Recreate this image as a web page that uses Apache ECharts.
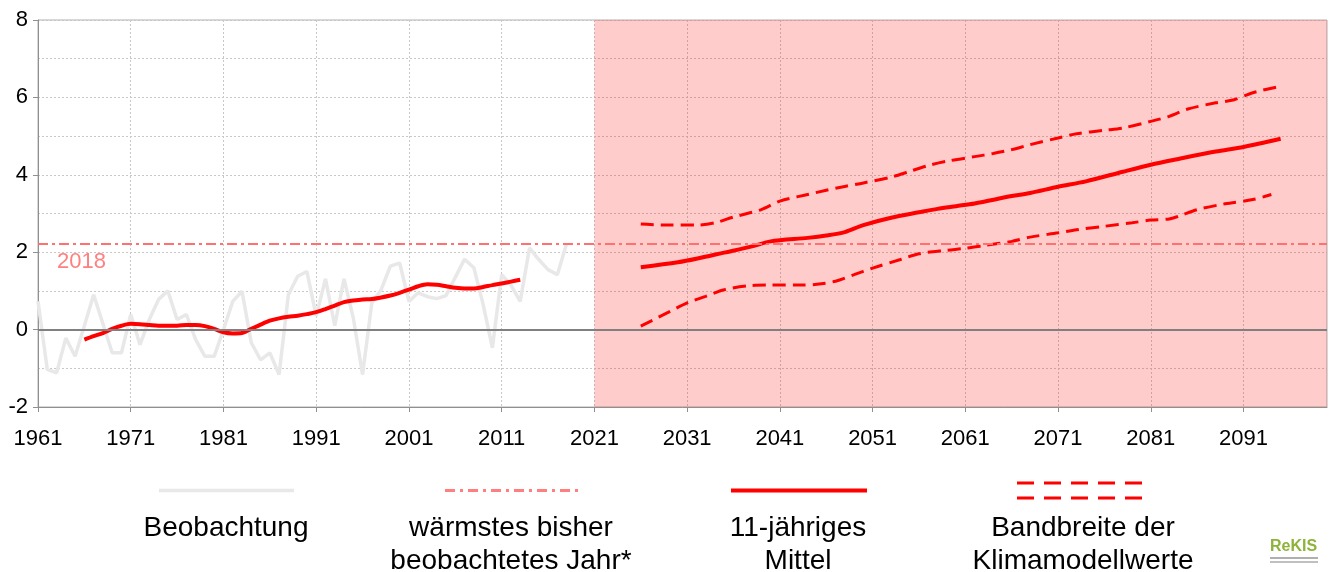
<!DOCTYPE html>
<html>
<head>
<meta charset="utf-8">
<script src="https://cdn.jsdelivr.net/npm/echarts@6/dist/echarts.min.js"></script>
<style>
  html, body { margin: 0; padding: 0; background: #fff; }
  #chart { width: 1338px; height: 572px; }
</style>
</head>
<body>
<div id="chart"></div>
<script>
// x categories: one per year
const firstYear = 1961
const lastYear = 2100
const years = []
for (let y = firstYear; y <= lastYear; y++) years.push(String(y))

// observed annual anomaly 1961..2018
const obsStart = 1961
const observed = [
  0.73, -1.03, -1.12, -0.22, -0.69, 0.1, 0.9, 0.15, -0.6, -0.6,
  0.39, -0.39, 0.26, 0.78, 1.0, 0.26, 0.39, -0.26, -0.69, -0.69,
  0.0, 0.73, 0.99, -0.34, -0.78, -0.6, -1.16, 0.9, 1.38, 1.5,
  0.35, 1.31, 0.1, 1.31, 0.3, -1.16, 0.69, 1.03, 1.64, 1.72,
  0.73, 0.95, 0.85, 0.8, 0.88, 1.35, 1.82, 1.6, 0.65, -0.47,
  1.42, 1.15, 0.73, 2.11, 1.81, 1.55, 1.42, 2.22
]

// 11-year running mean 1966..2013
const meanStart = 1966
const mean11 = [
  -0.26, -0.17, -0.09, 0.02, 0.1, 0.15, 0.14, 0.12, 0.1, 0.1,
  0.1, 0.12, 0.12, 0.09, 0.02, -0.07, -0.1, -0.09, 0.02, 0.13,
  0.23, 0.29, 0.33, 0.36, 0.4, 0.45, 0.53, 0.62, 0.71, 0.75,
  0.78, 0.79, 0.83, 0.88, 0.95, 1.03, 1.12, 1.17, 1.16, 1.12,
  1.08, 1.06, 1.06, 1.1, 1.15, 1.19, 1.24, 1.29
]

// climate model projections [year, value]
const futureMean = [
  [2026, 1.61], [2030, 1.74], [2032, 1.83], [2035, 1.99], [2038, 2.15],
  [2040, 2.28], [2044, 2.37], [2046, 2.43], [2048, 2.52], [2050, 2.7],
  [2053, 2.89], [2056, 3.03], [2058, 3.12], [2060, 3.19], [2062, 3.26],
  [2066, 3.45], [2068, 3.53], [2071, 3.69], [2074, 3.83], [2078, 4.08],
  [2081, 4.26], [2084, 4.41], [2088, 4.6], [2091, 4.72], [2095, 4.93]
]
const futureUpper = [
  [2026, 2.73], [2029, 2.7], [2032, 2.7], [2034, 2.76], [2036, 2.91],
  [2039, 3.1], [2041, 3.32], [2044, 3.49], [2046, 3.6], [2048, 3.7],
  [2050, 3.79], [2053, 3.94], [2055, 4.09], [2057, 4.24], [2059, 4.35],
  [2062, 4.47], [2064, 4.55], [2066, 4.65], [2068, 4.78], [2071, 4.95],
  [2073, 5.06], [2076, 5.15], [2078, 5.21], [2081, 5.38], [2083, 5.51],
  [2085, 5.7], [2088, 5.86], [2090, 5.94], [2092, 6.12], [2095, 6.29]
]
const futureLower = [
  [2026, 0.09], [2029, 0.45], [2031, 0.69], [2033, 0.86], [2035, 1.03],
  [2038, 1.14], [2040, 1.15], [2043, 1.15], [2045, 1.17], [2047, 1.25],
  [2049, 1.42], [2051, 1.59], [2054, 1.81], [2056, 1.96], [2059, 2.05],
  [2061, 2.1], [2063, 2.17], [2066, 2.28], [2068, 2.39], [2071, 2.5],
  [2073, 2.58], [2076, 2.67], [2079, 2.76], [2081, 2.83], [2083, 2.86],
  [2084, 2.93], [2086, 3.1], [2089, 3.25], [2092, 3.36], [2094, 3.49]
]

const warmestYear = '2018'
const warmestValue = 2.22
const scenarioStart = '2021'

const yMin = -2
const yMax = 8

const font = 'Liberation Sans, Arial, sans-serif'
const toPairs = (start, arr) => arr.map((v, i) => [String(start + i), v])
const yearPairs = arr => arr.map(d => [String(d[0]), d[1]])

const legendItems = [
  { x: 226, lines: ['Beobachtung'] },
  { x: 511, lines: ['wärmstes bisher', 'beobachtetes Jahr*'] },
  { x: 798, lines: ['11-jähriges', 'Mittel'] },
  { x: 1083, lines: ['Bandbreite der', 'Klimamodellwerte'] }
]

const graphic = []
// legend samples
graphic.push({ type: 'line', shape: { x1: 159, y1: 490.5, x2: 294, y2: 490.5 }, style: { stroke: '#e8e8e8', lineWidth: 3.5 } })
graphic.push({ type: 'line', shape: { x1: 445, y1: 490.5, x2: 581, y2: 490.5 }, style: { stroke: '#ff7f7f', lineWidth: 3, lineDash: [10, 5, 3, 5] } })
graphic.push({ type: 'line', shape: { x1: 731, y1: 490.5, x2: 867, y2: 490.5 }, style: { stroke: '#ff0000', lineWidth: 4 } })
graphic.push({ type: 'line', shape: { x1: 1017, y1: 483, x2: 1143, y2: 483 }, style: { stroke: '#ff0000', lineWidth: 3, lineDash: [17, 10] } })
graphic.push({ type: 'line', shape: { x1: 1017, y1: 498, x2: 1143, y2: 498 }, style: { stroke: '#ff0000', lineWidth: 3, lineDash: [17, 10] } })
legendItems.forEach(item => {
  item.lines.forEach((t, i) => {
    graphic.push({
      type: 'text',
      style: { text: t, x: item.x, y: 528 + i * 33, align: 'center', verticalAlign: 'middle', font: '28px ' + font, fill: '#000' }
    })
  })
})
// warmest year label
graphic.push({ type: 'text', style: { text: warmestYear, x: 57, y: 262, verticalAlign: 'middle', font: '22px ' + font, fill: '#ff8080' } })
// logo
graphic.push({ type: 'text', style: { text: 'ReKIS', x: 1270, y: 547, verticalAlign: 'middle', font: 'bold 16px ' + font, fill: '#8db33a' } })
graphic.push({ type: 'rect', shape: { x: 1270, y: 557, width: 48, height: 2 }, style: { fill: '#b0b0b0' } })
graphic.push({ type: 'rect', shape: { x: 1270, y: 561, width: 48, height: 2 }, style: { fill: '#c0c0c0' } })

const gridLine = { show: true, lineStyle: { color: '#c8c8c8', type: [2, 2], width: 1 } }

const option = {
  backgroundColor: '#fff',
  animation: false,
  grid: {
    left: 38, right: 11, top: 20, bottom: 165,
    show: true, borderColor: '#b0b0b0', borderWidth: 1, backgroundColor: 'transparent'
  },
  xAxis: {
    type: 'category',
    data: years,
    boundaryGap: false,
    axisLine: { onZero: false, lineStyle: { color: '#909090', width: 1 } },
    axisTick: { show: true, interval: 9, length: 5, lineStyle: { color: '#909090' } },
    axisLabel: { interval: 9, margin: 21, color: '#000', fontSize: 22, fontFamily: font },
    splitLine: { show: true, interval: 9, lineStyle: gridLine.lineStyle }
  },
  yAxis: {
    type: 'value',
    min: yMin, max: yMax, interval: 2,
    axisLine: { show: true, lineStyle: { color: '#909090', width: 1 } },
    axisTick: { show: true, length: 5, lineStyle: { color: '#909090' } },
    axisLabel: { margin: 10, color: '#000', fontSize: 22, fontFamily: font },
    splitLine: gridLine,
    minorTick: { show: false, splitNumber: 2 },
    minorSplitLine: gridLine
  },
  graphic: graphic,
  series: [
    {
      name: 'scenario',
      type: 'line',
      data: [],
      z: 1,
      silent: true,
      markArea: {
        silent: true,
        itemStyle: { color: 'rgba(255,0,0,0.2)' },
        data: [[{ xAxis: scenarioStart }, { xAxis: String(lastYear) }]]
      }
    },
    {
      name: 'Beobachtung',
      type: 'line',
      data: toPairs(obsStart, observed),
      symbol: 'none',
      z: 2,
      lineStyle: { color: '#e8e8e8', width: 3.5 }
    },
    {
      name: 'refs',
      type: 'line',
      data: [],
      z: 3,
      silent: true,
      markLine: {
        silent: true,
        symbol: 'none',
        label: { show: false },
        data: [
          { yAxis: 0, lineStyle: { color: '#808080', width: 2, type: 'solid' } },
          { yAxis: warmestValue, lineStyle: { color: '#ff7070', width: 2, type: [10, 4, 3, 4] } }
        ]
      }
    },
    {
      name: '11-jähriges Mittel',
      type: 'line',
      data: toPairs(meanStart, mean11),
      symbol: 'none',
      smooth: 0.3,
      z: 4,
      lineStyle: { color: '#ff0000', width: 4 }
    },
    {
      name: 'Mittel Projektion',
      type: 'line',
      data: yearPairs(futureMean),
      symbol: 'none',
      smooth: 0.3,
      z: 4,
      lineStyle: { color: '#ff0000', width: 4 }
    },
    {
      name: 'Bandbreite oben',
      type: 'line',
      data: yearPairs(futureUpper),
      symbol: 'none',
      smooth: 0.3,
      z: 4,
      lineStyle: { color: '#ff0000', width: 3, type: [13, 7] }
    },
    {
      name: 'Bandbreite unten',
      type: 'line',
      data: yearPairs(futureLower),
      symbol: 'none',
      smooth: 0.3,
      z: 4,
      lineStyle: { color: '#ff0000', width: 3, type: [13, 7] }
    }
  ]
}

const chart = echarts.init(document.getElementById('chart'))
chart.setOption(option)
window.onresize = function () {
  chart.resize()
}
</script>
</body>
</html>
